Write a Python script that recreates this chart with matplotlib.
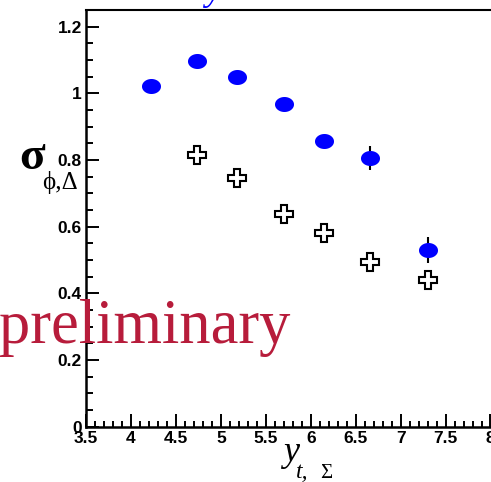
import matplotlib
matplotlib.use("Agg")
import matplotlib.pyplot as plt
from matplotlib.path import Path
import numpy as np

# 横軸 y_{t,Σ} の各ビン
y_full = [4.22, 4.73, 5.18, 5.70, 6.15, 6.66, 7.30]
sigma_full = [1.022, 1.098, 1.048, 0.967, 0.857, 0.806, 0.530]
sigma_full_err = [0.010, 0.010, 0.010, 0.012, 0.015, 0.035, 0.038]

y_open = [4.73, 5.18, 5.70, 6.15, 6.66, 7.30]
sigma_open = [0.815, 0.745, 0.638, 0.582, 0.493, 0.440]

W, H = 491, 482

def fx(x):
    return x / W

def fy(y):
    return 1 - y / H

# 横長の楕円マーカー
t = np.linspace(0, 2*np.pi, 60)
ellipse = Path(np.column_stack([np.cos(t), 15/19*np.sin(t)]), closed=True)

fig = plt.figure(figsize=(W/100, H/100), dpi=100)
ax = fig.add_axes([fx(86), 1 - 426.6/H, 404.5/W, 416.6/H])

ax.errorbar(y_full, sigma_full, yerr=sigma_full_err, fmt="none",
            ecolor="black", elinewidth=1.5, capsize=0, zorder=2)
ax.plot(y_full, sigma_full, ls="none", marker=ellipse, ms=13.7,
        mfc="blue", mec="blue", mew=0, zorder=3)
ax.plot(y_open, sigma_open, ls="none", marker="P", ms=12.5,
        mfc="white", mec="black", mew=1.5, zorder=3)

ax.set_xlim(3.5, 8)
ax.set_ylim(0, 1.25)
ax.set_xticks(np.arange(3.5, 8.01, 0.5))
ax.set_xticks(np.arange(3.5, 8.01, 0.1), minor=True)
ax.set_yticks(np.arange(0, 1.21, 0.2))
ax.set_yticks(np.arange(0, 1.251, 0.05), minor=True)
ax.set_xticklabels(["3.5", "4", "4.5", "5", "5.5", "6", "6.5", "7", "7.5", "8"])
ax.set_yticklabels(["0", "0.2", "0.4", "0.6", "0.8", "1", "1.2"])

ax.tick_params(which="both", direction="in", width=1.4, top=False, right=False)
ax.tick_params(which="major", length=9.5, pad=3)
ax.tick_params(axis="y", which="minor", length=5)
ax.tick_params(axis="x", which="minor", length=4.5)
for lab in ax.get_xticklabels() + ax.get_yticklabels():
    lab.set_family("Liberation Sans")
    lab.set_fontweight("bold")
    lab.set_fontsize(12.5)

ax.spines["left"].set_linewidth(1.8)
ax.spines["bottom"].set_linewidth(1.8)
ax.spines["top"].set_linewidth(1.5)
ax.spines["right"].set_visible(False)

serif = "Liberation Serif"

# 軸ラベル
fig.text(fx(19), fy(169), "σ", family=serif, fontweight="bold", fontsize=34,
         va="baseline")
fig.text(fx(42), fy(189), "ϕ,Δ", family=serif, fontsize=18, va="baseline")
fig.text(fx(283), fy(461), "y", family=serif, style="italic", fontsize=26,
         va="baseline")
fig.text(fx(296), fy(478), "t,", family=serif, style="italic", fontsize=17,
         va="baseline")
fig.text(fx(320), fy(478), "Σ", family=serif, fontsize=15, va="baseline")

# 上端で切れているタイトルの一部
fig.text(fx(205), fy(0), "y", family=serif, style="italic", fontsize=26,
         color="blue", va="baseline")

fig.text(fx(-1), fy(343), "preliminary", family=serif, fontsize=45,
         color="#b71c3b", va="baseline", zorder=5)

fig.savefig("out.png", dpi=100)
